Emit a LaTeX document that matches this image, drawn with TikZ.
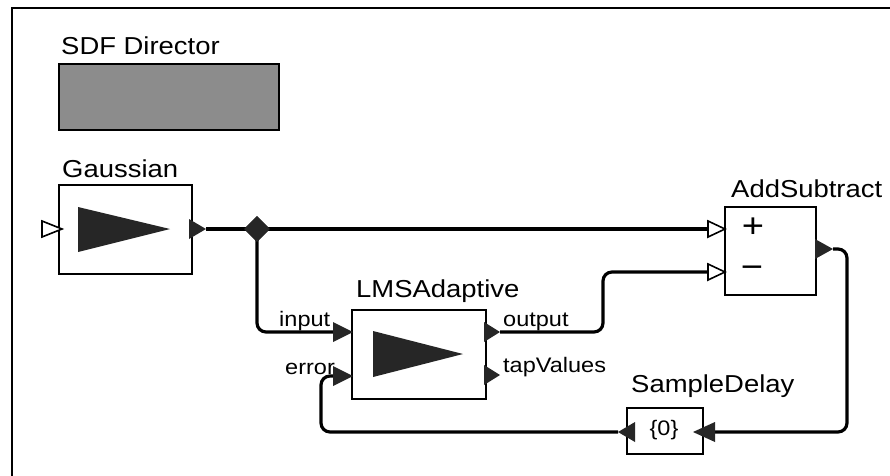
\documentclass[tikz,border=0pt]{standalone}
\usepackage{fontspec}
\setmainfont[FakeStretch=1.12]{Liberation Sans}
\usetikzlibrary{shapes.geometric}
\begin{document}
\begin{tikzpicture}[x=1pt,y=-1pt,
  box/.style={draw, line width=1.6pt, fill=white, inner sep=0pt, anchor=north west},
  actorname/.style={anchor=base west, inner sep=0pt, font=\fontsize{24.5}{27}\selectfont},
  plabel/.style={anchor=base west, inner sep=0pt, font=\fontsize{21}{24}\selectfont},
  wire/.style={line width=3.2pt, rounded corners=9pt},
  hport/.style={draw, line width=1.6pt, fill=white, line join=miter},
  fport/.style={fill=black!85},
  icon/.style={fill=black!85}]
\useasboundingbox (0,0) rectangle (890,475);
\fill[white] (0,0) rectangle (890,475);
\draw[line width=2pt] (12,480) -- (12,8) -- (895,8);

% director
\node[actorname] (dirlabel) at (61,54) {SDF Director};
\node[box, fill=black!45, minimum width=220pt, minimum height=66pt] (director) at (58,63) {};

% port coordinates
\coordinate (g-in) at (62,229);
\coordinate (g-out) at (206,229);
\coordinate (lms-in) at (334,332);
\coordinate (lms-err) at (334,376);
\coordinate (lms-out) at (500,332);
\coordinate (lms-tap) at (500,375);
\coordinate (as-plus) at (709,229);
\coordinate (as-minus) at (709,272);
\coordinate (as-out) at (833,249);
\coordinate (sd-in) at (714,432);
\coordinate (sd-out) at (618,432);

% wires
\node[diamond, fill=black!85, minimum width=26pt, minimum height=26pt, inner sep=0pt] (split) at (257,229) {};
\draw[wire] (g-out) -- (split.center) -- (as-plus);
\draw[wire] (split.center) |- (lms-in);
\draw[wire] (lms-out) -- ++(103,0) |- (as-minus);
\draw[wire] (as-out) -- ++(14,0) |- (sd-in);
\draw[wire] (sd-out) -- (321,432) -- (321,376) -- (lms-err);
\node[diamond, fill=black!85, minimum width=26pt, minimum height=26pt, inner sep=0pt] at (split) {};

% Gaussian
\node[actorname] (glabel) at (62,177) {Gaussian};
\node[box, minimum width=133pt, minimum height=89pt] (gauss) at (58,184) {};
\fill[icon] (78,207) -- (170,229) -- (78,252) -- cycle;
\draw[hport] (42,221) -- (g-in) -- (42,237) -- cycle;
\fill[fport] (189,219) -- (g-out) -- (189,239) -- cycle;

% LMSAdaptive
\node[actorname] (lmslabel) at (356,297) {LMSAdaptive};
\node[box, minimum width=134pt, minimum height=89pt] (lms) at (351,309) {};
\fill[icon] (373,331) -- (463,354) -- (373,377) -- cycle;
\fill[fport] (333,322) -- (353,332) -- (333,342) -- cycle;
\fill[fport] (333,366) -- (353,376) -- (333,386) -- cycle;
\fill[fport] (484,322) -- (lms-out) -- (484,342) -- cycle;
\fill[fport] (484,365) -- (lms-tap) -- (484,385) -- cycle;
\node[plabel] (inlabel) at (279,326) {input};
\node[plabel] (errlabel) at (285,374) {error};
\node[plabel] (outlabel) at (503,326) {output};
\node[plabel] (taplabel) at (503,372) {tapValues};

% AddSubtract
\node[actorname] (aslabel) at (731,197) {AddSubtract};
\node[box, minimum width=91pt, minimum height=88pt] (addsub) at (724,206) {};
\node[inner sep=0pt, font=\fontsize{34}{34}\selectfont] (plus) at (753,228) {+};
\node[inner sep=0pt, font=\fontsize{34}{34}\selectfont] (minus) at (752,272) {−};
\draw[hport] (708,221) -- (725,229) -- (708,237) -- cycle;
\draw[hport] (708,264) -- (725,272) -- (708,280) -- cycle;
\fill[fport] (815,239) -- (as-out) -- (815,259) -- cycle;

% SampleDelay
\node[actorname] (sdlabel) at (631,392) {SampleDelay};
\node[box, minimum width=76pt, minimum height=46pt] (sdelay) at (626,407) {};
\node[inner sep=0pt, font=\fontsize{21}{24}\selectfont] (sdval) at (664,430) {\{0\}};
\fill[fport] (715,422) -- (693,432) -- (715,442) -- cycle;
\fill[fport] (635,422) -- (sd-out) -- (635,442) -- cycle;
\end{tikzpicture}
\end{document}
